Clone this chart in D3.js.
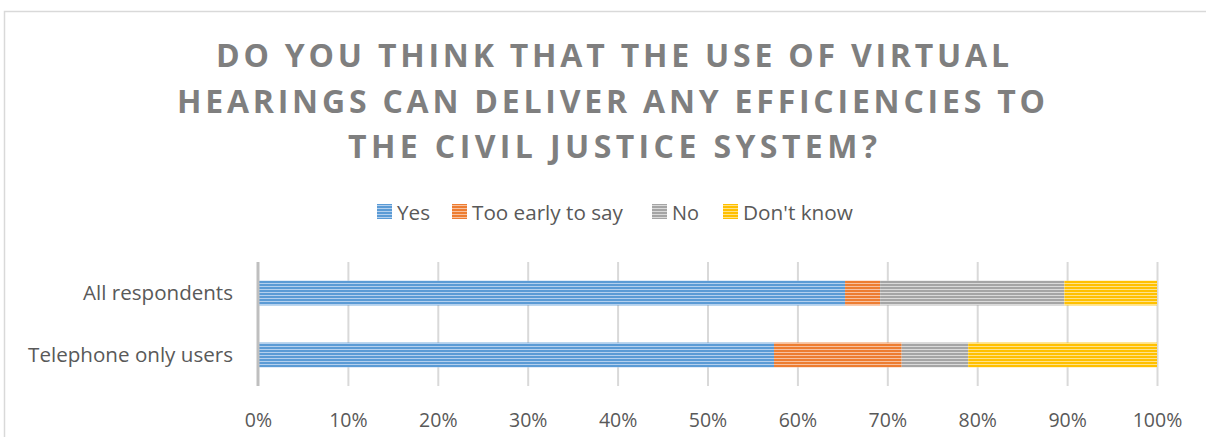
<!DOCTYPE html>
<html><head><meta charset="utf-8">
<script src="https://cdn.jsdelivr.net/npm/d3@7"></script>
<style>
body{margin:0;background:#fff;}
svg{display:block;}
</style></head>
<body>
<svg id="chart" width="1206" height="437"></svg>
<script>
const categories = ["All respondents", "Telephone only users"];
const seriesNames = ["Yes", "Too early to say", "No", "Don't know"];
const yesValues = [0.653, 0.574];
const tooEarlyValues = [0.039, 0.142];
const noValues = [0.205, 0.074];
const dontKnowValues = [0.103, 0.210];
const xTicks = [0, 0.1, 0.2, 0.3, 0.4, 0.5, 0.6, 0.7, 0.8, 0.9, 1.0];
const titleLines = ["DO YOU THINK THAT THE USE OF VIRTUAL", "HEARINGS CAN DELIVER ANY EFFICIENCIES TO", "THE CIVIL JUSTICE SYSTEM?"];

const colors = ["#5B9BD5", "#ED7D31", "#A5A5A5", "#FFC000"];
const lights = ["#B4D0EE", "#F7C1A0", "#DADADA", "#FFE28A"];
const FONT = "'Open Sans', sans-serif";

const svg = d3.select("#chart");
const defs = svg.append("defs");
colors.forEach((c, i) => {
  const p = defs.append("pattern").attr("id", "pat" + i)
    .attr("patternUnits", "userSpaceOnUse").attr("width", 6).attr("height", 3);
  p.append("rect").attr("width", 6).attr("height", 3).attr("fill", c);
  p.append("rect").attr("y", 1).attr("width", 6).attr("height", 1).attr("fill", lights[i]);
});

function fitFont(sel, target) {
  sel.style("font-size", "20px");
  const w = sel.node().getComputedTextLength();
  sel.style("font-size", (20 * target / w).toFixed(2) + "px");
}

// chart border
svg.append("rect").attr("x", 4.5).attr("y", 11.5).attr("width", 1210).attr("height", 440)
  .attr("fill", "none").attr("stroke", "#d9d9d9").attr("stroke-width", 1.5);

// title
const titleTargets = [[216, 1009], [177, 1045], [348, 877]];
const titleBaselines = [67, 113, 158];
titleLines.forEach((t, i) => {
  const txt = svg.append("text").attr("x", 603).attr("y", titleBaselines[i])
    .attr("text-anchor", "middle").attr("fill", "#7f7f7f")
    .style("font-family", FONT).style("font-weight", "bold").style("font-size", "32px")
    .text(t);
  const w = txt.node().getComputedTextLength();
  const target = titleTargets[i][1] - titleTargets[i][0];
  const ls = (target - w) / (t.length - 1);
  txt.style("letter-spacing", ls + "px");
  const cx = (titleTargets[i][0] + titleTargets[i][1]) / 2;
  txt.attr("x", cx + ls / 2);
});

// scales
const x = d3.scaleLinear().domain([0, 1]).range([258, 1157]);
const y = d3.scaleBand().domain(categories).range([262, 386]).paddingInner(0.6).paddingOuter(0.3);

// gridlines
const grid = svg.append("g").attr("transform", "translate(0,386)")
  .call(d3.axisBottom(x).tickValues(xTicks.slice(1)).tickSize(-124).tickFormat(""));
grid.select(".domain").remove();
grid.selectAll("line").attr("stroke", "#d9d9d9").attr("stroke-width", 2);

// stacked data
const rows = categories.map((c, i) => ({
  cat: c, "Yes": yesValues[i], "Too early to say": tooEarlyValues[i],
  "No": noValues[i], "Don't know": dontKnowValues[i]
}));
const stack = d3.stack().keys(seriesNames)(rows);
stack.forEach((s, si) => {
  svg.append("g").selectAll("rect").data(s).join("rect")
    .attr("x", d => x(d[0])).attr("width", d => x(d[1]) - x(d[0]))
    .attr("y", d => y(d.data.cat)).attr("height", y.bandwidth())
    .attr("fill", "url(#pat" + si + ")");
});

// axis line at 0
svg.append("line").attr("x1", x(0)).attr("x2", x(0)).attr("y1", 262).attr("y2", 386)
  .attr("stroke", "#bfbfbf").attr("stroke-width", 3);

// x tick labels
const xa = svg.append("g").attr("transform", "translate(0,386)")
  .call(d3.axisBottom(x).tickValues(xTicks).tickSize(0).tickPadding(0).tickFormat(d3.format(".0%")));
xa.select(".domain").remove();
xa.selectAll("text").attr("y", 41).attr("dy", null).attr("fill", "#595959")
  .style("font-family", FONT).style("font-size", "19.5px");

// y labels
const ya = svg.append("g").attr("transform", "translate(258,0)")
  .call(d3.axisLeft(y).tickSize(0).tickPadding(25));
ya.select(".domain").remove();
ya.selectAll("text").attr("fill", "#595959").style("font-family", FONT)
  .attr("dy", "0.36em");
const yTargets = [150, 205];
ya.selectAll("text").each(function(d, i) { fitFont(d3.select(this), yTargets[i]); });

// legend
const legendX = [377, 452, 652, 723];
const legendW = [33, 151, 27, 110];
const lg = svg.append("g");
seriesNames.forEach((n, i) => {
  lg.append("rect").attr("x", legendX[i]).attr("y", 204).attr("width", 15).attr("height", 15)
    .attr("fill", "url(#pat" + i + ")");
  const t = lg.append("text").attr("x", legendX[i] + 20).attr("y", 220).attr("fill", "#595959")
    .style("font-family", FONT).text(n);
  fitFont(t, legendW[i]);
});
</script>
</body></html>
